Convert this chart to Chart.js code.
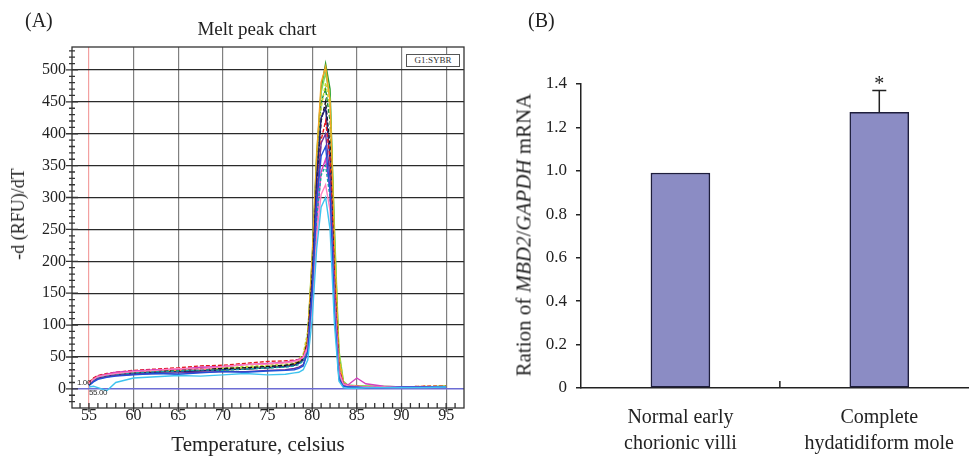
<!DOCTYPE html>
<html>
<head>
<meta charset="utf-8">
<script src="https://cdn.jsdelivr.net/npm/chart.js@4.4.0/dist/chart.umd.min.js"></script>
<style>
  html, body { margin: 0; padding: 0; background: #fff; }
  body { width: 971px; height: 460px; position: relative; overflow: hidden;
         font-family: 'Liberation Serif', 'DejaVu Serif', serif; color: #222; }
  .txt { position: absolute; white-space: nowrap; line-height: 1; }
  .center { transform: translateX(-50%); }
  .rot { transform: translate(-50%, -50%) rotate(-90deg); }
  .tiny { font-family: 'Liberation Sans', sans-serif; font-size: 8px; letter-spacing: -0.4px; color: #333; }
  #melt-chart { position: absolute; left: 0; top: 0; }
  #ratio-chart { position: absolute; left: 490px; top: 0; }
  #probe-box { position: absolute; left: 406px; top: 54px; width: 52px; height: 11px; border: 1px solid #555;
               font-size: 9px; line-height: 11px; text-align: center; color: #333; background: #fff; }
</style>
</head>
<body>
<canvas id="melt-chart" width="485" height="460"></canvas>
<canvas id="ratio-chart" width="481" height="460"></canvas>

<div class="txt" style="left:25px; top:10px; font-size:20px;">(A)</div>
<div class="txt center" style="left:257px; top:19px; font-size:19px;">Melt peak chart</div>
<div class="txt rot" style="left:18px; top:214px; font-size:18px;">-d (RFU)/dT</div>
<div class="txt center" style="left:258px; top:434px; font-size:21px;">Temperature, celsius</div>
<div id="probe-box">G1:SYBR</div>
<div class="txt tiny" style="left:77px; top:379px;">1.00</div>
<div class="txt tiny" style="left:89px; top:389px;">55.00</div>

<div class="txt" style="left:528px; top:10px; font-size:20px;">(B)</div>
<div class="txt rot" style="left:524px; top:235px; font-size:21px;">Ration of <i>MBD2</i>/<i>GAPDH</i> mRNA</div>

<script>
// ---- Panel A: melt peak curves ----
const meltTemps = [55, 55.5, 56, 57, 58, 60, 62.5, 65, 67.5, 70, 72.5, 75, 77, 78, 78.5, 79,
                   79.5, 80, 80.5, 81, 81.5, 82, 82.5, 83, 83.5, 84, 85, 86, 88, 90, 92.5, 95];

const curveCyan      = [3, 4, 2, -3, 10, 17, 19, 21, 20, 22, 24, 22, 23, 25, 26, 30, 45, 110, 220, 285, 300, 250, 100, 12, 2, 1, 1, 2, 2, 2, 2, 3];
const curveBlue      = [5, 11, 15, 18, 20, 22, 24, 23, 25, 27, 26, 28, 29, 30, 32, 36, 58, 150, 290, 365, 380, 310, 120, 15, 4, 3, 3, 2, 2, 3, 3, 3];
const curvePink      = [8, 15, 19, 22, 24, 27, 29, 32, 31, 35, 38, 39, 41, 43, 45, 49, 65, 130, 240, 305, 320, 280, 130, 25, 7, 5, 4, 3, 3, 3, 3, 3];
const curveTeal      = [7, 14, 18, 21, 23, 25, 27, 28, 30, 29, 31, 33, 34, 36, 38, 44, 62, 140, 270, 335, 350, 300, 140, 22, 6, 4, 3, 3, 3, 3, 3, 3];
const curveMagenta   = [8, 15, 20, 23, 26, 28, 30, 31, 34, 35, 38, 40, 42, 44, 46, 50, 68, 140, 260, 340, 360, 310, 150, 28, 8, 6, 17, 8, 4, 3, 3, 3];
const curvePurple    = [6, 12, 16, 19, 21, 23, 24, 25, 26, 27, 27, 29, 30, 32, 34, 38, 60, 150, 300, 385, 400, 330, 130, 20, 6, 4, 3, 3, 3, 3, 3, 3];
const curveRed       = [10, 17, 21, 24, 26, 29, 31, 33, 36, 37, 40, 43, 44, 45, 46, 50, 70, 150, 290, 390, 420, 360, 170, 30, 8, 5, 4, 3, 3, 3, 4, 4];
const curveNavy      = [7, 13, 17, 20, 22, 24, 26, 27, 28, 30, 31, 33, 35, 37, 40, 45, 70, 170, 330, 425, 440, 360, 140, 18, 5, 3, 3, 3, 3, 3, 3, 3];
const curveBlack     = [9, 16, 20, 23, 25, 27, 29, 30, 31, 32, 33, 35, 37, 39, 42, 48, 75, 175, 320, 420, 450, 380, 170, 30, 7, 4, 3, 3, 3, 3, 3, 3];
const curveOrange    = [9, 16, 20, 23, 25, 27, 28, 29, 31, 30, 32, 34, 36, 39, 43, 50, 82, 205, 365, 480, 505, 450, 220, 45, 9, 5, 4, 3, 3, 3, 3, 3];
const curveYellowGrn = [7, 15, 19, 22, 24, 27, 29, 30, 32, 33, 35, 37, 40, 43, 47, 55, 90, 190, 340, 440, 480, 440, 230, 55, 11, 5, 4, 4, 3, 3, 4, 4];
const curveDarkGreen = [8, 15, 19, 22, 24, 26, 28, 30, 29, 31, 33, 34, 36, 39, 43, 49, 80, 195, 355, 450, 470, 420, 210, 45, 9, 5, 4, 3, 3, 3, 3, 3];
const curveLightGrn  = [6, 13, 18, 21, 23, 26, 28, 29, 30, 32, 33, 35, 37, 40, 44, 50, 85, 210, 370, 465, 495, 455, 250, 60, 12, 6, 5, 4, 4, 3, 3, 4];
const curveGreen     = [8, 14, 17, 20, 22, 25, 27, 28, 29, 30, 31, 33, 35, 38, 42, 48, 80, 200, 360, 470, 510, 470, 240, 50, 10, 5, 4, 4, 3, 3, 3, 4];

const meltXTicks = [55, 60, 65, 70, 75, 80, 85, 90, 95];
const meltYTicks = [0, 50, 100, 150, 200, 250, 300, 350, 400, 450, 500];

const meltCurves = [
  { values: curveCyan, color: '#3ec3ef', dash: [] },
  { values: curveBlue, color: '#2050d8', dash: [] },
  { values: curvePink, color: '#ff7fbf', dash: [] },
  { values: curveTeal, color: '#17a2a0', dash: [3, 2] },
  { values: curveMagenta, color: '#d63fbf', dash: [] },
  { values: curvePurple, color: '#6a2d9a', dash: [] },
  { values: curveRed, color: '#e31a1c', dash: [4, 2] },
  { values: curveNavy, color: '#1f1f7a', dash: [] },
  { values: curveBlack, color: '#111111', dash: [4, 2] },
  { values: curveOrange, color: '#f5a623', dash: [] },
  { values: curveYellowGrn, color: '#c2d52a', dash: [3, 2] },
  { values: curveDarkGreen, color: '#138a36', dash: [4, 2] },
  { values: curveLightGrn, color: '#7ed957', dash: [] },
  { values: curveGreen, color: '#2ca02c', dash: [] },
];

// ---- Panel B: MBD2/GAPDH ratio ----
const ratioCategories = [['Normal early', 'chorionic villi'], ['Complete', 'hydatidiform mole']];
const ratioValues = [0.99, 1.27];
const ratioErrors = [0, 0.10];
const ratioMarks = ['', '*'];
const ratioYTicks = [0, 0.2, 0.4, 0.6, 0.8, 1.0, 1.2, 1.4];

const serif = 'Liberation Serif';
const ink = '#222';

const meltFramePlugin = {
  id: 'meltFrame',
  afterDraw(chart) {
    const { ctx, chartArea: a, scales: { x, y } } = chart;
    ctx.save();
    ctx.strokeStyle = '#333';
    ctx.lineWidth = 1.3;
    ctx.strokeRect(a.left, a.top, a.right - a.left, a.bottom - a.top);
    ctx.beginPath();
    for (let t = 54; t <= 96; t++) {
      const px = x.getPixelForValue(t);
      const major = t % 5 === 0;
      ctx.moveTo(px, a.bottom + (major ? 4 : 0));
      ctx.lineTo(px, a.bottom - 5);
    }
    for (let v = -20; v <= 530; v += 10) {
      const py = y.getPixelForValue(v);
      const major = v % 50 === 0;
      ctx.moveTo(a.left - (major ? 6 : 3), py);
      ctx.lineTo(a.left + (major ? 6 : 3), py);
    }
    ctx.stroke();
    ctx.restore();
  }
};

new Chart(document.getElementById('melt-chart'), {
  type: 'line',
  data: {
    datasets: meltCurves.map(c => ({
      data: meltTemps.map((t, i) => ({ x: t, y: c.values[i] })),
      borderColor: c.color,
      borderDash: c.dash,
      borderWidth: 1.4,
      pointRadius: 0,
      tension: 0,
      fill: false
    }))
  },
  options: {
    responsive: false,
    animation: false,
    layout: { padding: { top: 47, right: 21, bottom: 0, left: 0 } },
    plugins: { legend: { display: false }, tooltip: { enabled: false } },
    scales: {
      x: {
        type: 'linear', min: 53.1, max: 97,
        afterBuildTicks: s => { s.ticks = meltXTicks.map(v => ({ value: v })); },
        afterFit: s => { s.height = 52; },
        ticks: { color: ink, padding: 0, font: { family: serif, size: 16, lineHeight: 1 } },
        grid: {
          drawTicks: false,
          color: c => (c.tick && c.tick.value === 55 ? '#f3a0a0' : '#808080'),
          lineWidth: 1.2
        },
        border: { display: false }
      },
      y: {
        min: -30, max: 536,
        afterBuildTicks: s => { s.ticks = meltYTicks.map(v => ({ value: v })); },
        afterFit: s => { s.width = 72; },
        ticks: { color: ink, padding: 6, font: { family: serif, size: 16 } },
        grid: {
          drawTicks: false,
          color: c => (c.tick && c.tick.value === 0 ? '#6c6cd4' : '#2a2a2a'),
          lineWidth: c => (c.tick && c.tick.value === 0 ? 1.6 : 1.3)
        },
        border: { display: false }
      }
    }
  },
  plugins: [meltFramePlugin]
});

const errorBarPlugin = {
  id: 'errorBars',
  afterDatasetsDraw(chart) {
    const { ctx, chartArea: a, scales: { x, y } } = chart;
    ctx.save();
    ctx.strokeStyle = ink;
    ctx.fillStyle = ink;
    ctx.lineWidth = 1.5;
    // small divider tick between the two groups
    ctx.beginPath();
    const mid = x.getPixelForValue(0.5);
    ctx.moveTo(mid, a.bottom);
    ctx.lineTo(mid, a.bottom - 7);
    ctx.stroke();
    ratioValues.forEach((v, i) => {
      const e = ratioErrors[i];
      if (!e) return;
      const px = x.getPixelForValue(i);
      const top = y.getPixelForValue(v + e);
      ctx.beginPath();
      ctx.moveTo(px, y.getPixelForValue(v));
      ctx.lineTo(px, top);
      ctx.moveTo(px - 7, top);
      ctx.lineTo(px + 7, top);
      ctx.stroke();
      ctx.font = '20px "' + serif + '"';
      ctx.textAlign = 'center';
      ctx.textBaseline = 'alphabetic';
      ctx.fillText(ratioMarks[i], px, top - 1);
    });
    ctx.restore();
  }
};

new Chart(document.getElementById('ratio-chart'), {
  type: 'bar',
  data: {
    datasets: [{
      data: ratioValues.map((v, i) => ({ x: i, y: v })),
      backgroundColor: '#8b8cc4',
      borderColor: '#1e1e3c',
      borderWidth: 1.5,
      borderSkipped: false,
      barThickness: 59
    }]
  },
  options: {
    responsive: false,
    animation: false,
    layout: { padding: { top: 84, right: 0, bottom: 0, left: 0 } },
    plugins: { legend: { display: false }, tooltip: { enabled: false } },
    scales: {
      x: {
        type: 'linear', min: -0.5, max: 1.45, offset: false,
        afterBuildTicks: s => { s.ticks = ratioCategories.map((c, i) => ({ value: i })); },
        afterFit: s => { s.height = 72; },
        ticks: {
          color: ink, padding: 17,
          font: { family: serif, size: 20, lineHeight: 1.3 },
          callback: v => ratioCategories[v]
        },
        grid: { display: false, drawTicks: false, offset: false },
        border: { display: true, color: ink, width: 1.5 }
      },
      y: {
        min: 0, max: 1.4,
        afterBuildTicks: s => { s.ticks = ratioYTicks.map(v => ({ value: v })); },
        afterFit: s => { s.width = 91; },
        ticks: {
          color: ink, padding: 9,
          font: { family: serif, size: 17 },
          callback: v => (v === 0 ? '0' : v.toFixed(1))
        },
        grid: { drawOnChartArea: false, drawTicks: true, tickLength: 5, color: ink, lineWidth: 1.5 },
        border: { display: true, color: ink, width: 1.5 }
      }
    }
  },
  plugins: [errorBarPlugin]
});
</script>
</body>
</html>
